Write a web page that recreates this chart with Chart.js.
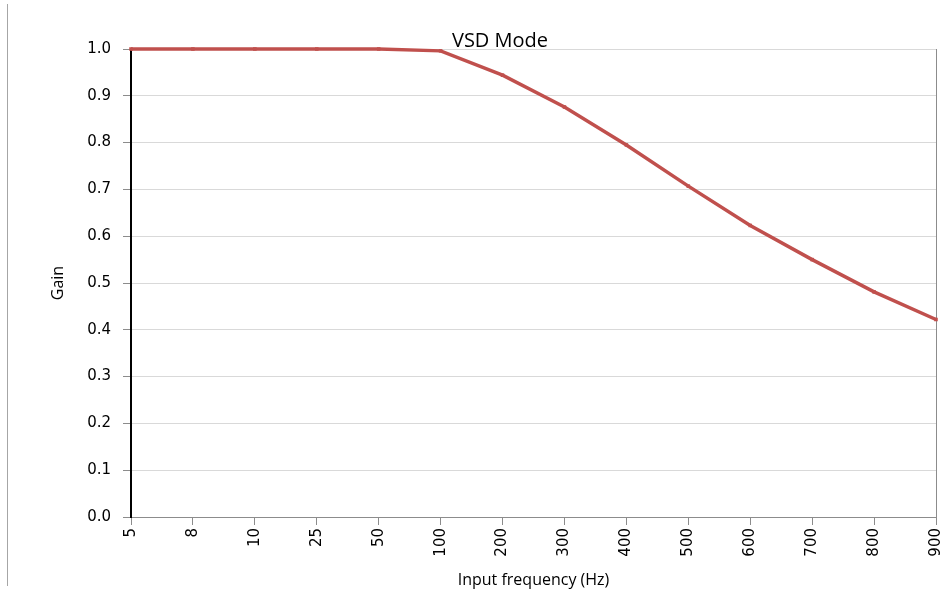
<!DOCTYPE html>
<html>
<head>
<meta charset="utf-8">
<style>
  html, body { margin: 0; padding: 0; background: #ffffff; }
  #wrap { width: 944px; height: 590px; position: relative; }
</style>
<script src="https://cdn.jsdelivr.net/npm/chart.js@4"></script>
</head>
<body>
<div id="wrap"><canvas id="c" width="944" height="590"></canvas></div>
<script>
const frequencies = ['5', '8', '10', '25', '50', '100', '200', '300', '400', '500', '600', '700', '800', '900'];
const gain = [1.0, 1.0, 1.0, 1.0, 1.0, 0.996, 0.944, 0.876, 0.795, 0.707, 0.623, 0.550, 0.481, 0.422];
const chartTitle = 'VSD Mode';
const xTitle = 'Input frequency (Hz)';
const yTitle = 'Gain';
const yMin = 0, yMax = 1, yStep = 0.1;

const decor = {
  id: 'decor',
  beforeDraw(chart) {
    const ctx = chart.ctx;
    ctx.save();
    ctx.strokeStyle = '#a6a6a6';
    ctx.lineWidth = 1;
    ctx.beginPath();
    ctx.moveTo(7.5, 4);
    ctx.lineTo(7.5, 586);
    ctx.stroke();
    ctx.restore();
  },
  afterDraw(chart) {
    const ctx = chart.ctx;
    ctx.save();
    ctx.fillStyle = '#000000';
    ctx.font = '20px "Open Sans"';
    ctx.textAlign = 'center';
    ctx.textBaseline = 'alphabetic';
    ctx.fillText(chartTitle, 500, 47);
    ctx.restore();
  }
};

new Chart(document.getElementById('c'), {
  type: 'line',
  data: {
    labels: frequencies,
    datasets: [{
      data: gain,
      borderColor: '#c0504d',
      backgroundColor: '#c0504d',
      borderWidth: 3.5,
      pointStyle: 'rect',
      pointRadius: 2.5,
      pointBorderWidth: 0,
      tension: 0,
      clip: false
    }]
  },
  options: {
    responsive: false,
    animation: false,
    layout: { padding: { left: 49, right: 8, top: 49, bottom: 0 } },
    plugins: { legend: { display: false }, tooltip: { enabled: false }, title: { display: false } },
    scales: {
      x: {
        type: 'category',
        offset: false,
        afterFit(s) { s.height = 73; s.paddingRight = 0; s.paddingLeft = 0; },
        grid: {
          drawOnChartArea: true,
          color: (c) => (c.index === frequencies.length - 1 ? '#8c8c8c' : 'rgba(0,0,0,0)'),
          tickColor: '#8c8c8c',
          tickLength: 8,
          lineWidth: 1
        },
        border: { color: '#8c8c8c', width: 1 },
        ticks: {
          autoSkip: false,
          maxRotation: 90,
          minRotation: 90,
          padding: 3,
          color: '#000000',
          font: { family: '"DejaVu Sans"', size: 15 }
        },
        title: {
          display: true,
          text: xTitle,
          color: '#000000',
          font: { family: '"Open Sans"', size: 16 },
          padding: { top: 2, bottom: 0 }
        }
      },
      y: {
        min: yMin,
        max: yMax,
        afterFit(s) { s.width = 82; s.paddingTop = 0; s.paddingBottom = 0; },
        grid: {
          color: '#d9d9d9',
          tickColor: '#8c8c8c',
          tickLength: 8,
          lineWidth: 1
        },
        border: { color: '#000000', width: 2 },
        ticks: {
          stepSize: yStep,
          padding: 12,
          color: '#000000',
          font: { family: '"DejaVu Sans"', size: 15 },
          callback: (v) => Number(v).toFixed(1)
        },
        title: {
          display: true,
          text: yTitle,
          color: '#000000',
          font: { family: '"Open Sans"', size: 16 },
          padding: { top: 0, bottom: 0 }
        }
      }
    }
  },
  plugins: [decor]
});
</script>
</body>
</html>
